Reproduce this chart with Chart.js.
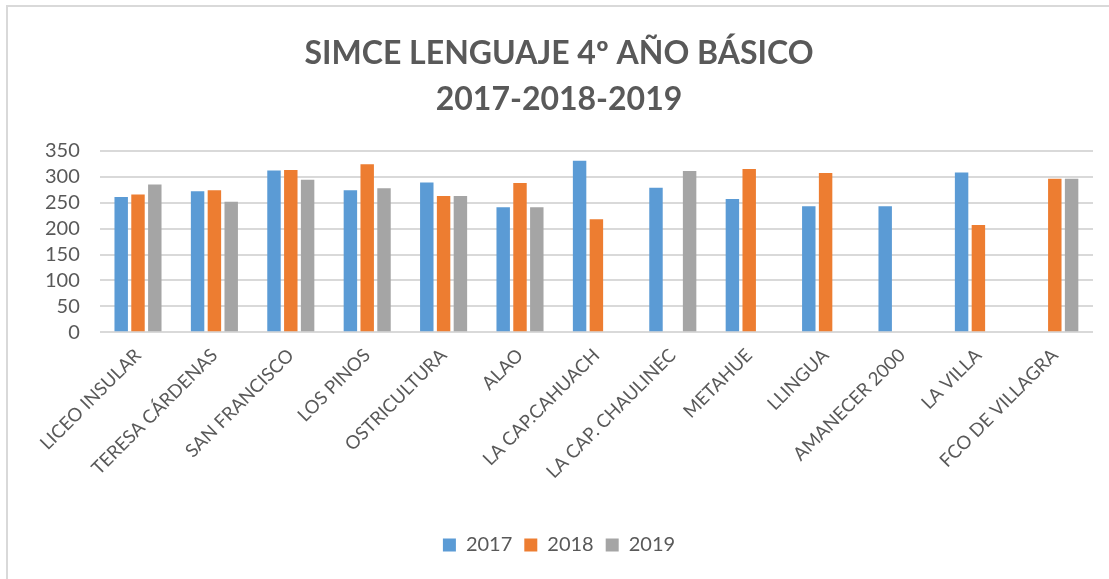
<!DOCTYPE html>
<html>
<head>
<meta charset="utf-8">
<script src="https://cdn.jsdelivr.net/npm/chart.js@4"></script>
<style>
  body { margin: 0; background: #fff; }
  #frame { position: absolute; left: 6px; top: 5px; width: 1200px; height: 700px; border: 2px solid #d9d9d9; }
  #wrap { position: absolute; left: 0; top: 0; width: 1109px; height: 579px; }
</style>
</head>
<body>
<div id="frame"></div>
<div id="wrap"><canvas id="simceChart"></canvas></div>
<script>
// datos
const schools = ['LICEO INSULAR', 'TERESA CÁRDENAS', 'SAN FRANCISCO', 'LOS PINOS', 'OSTRICULTURA', 'ALAO',
  'LA CAP.CAHUACH', 'LA CAP. CHAULINEC', 'METAHUE', 'LLINGUA', 'AMANECER 2000', 'LA VILLA', 'FCO DE VILLAGRA'];
const years = ['2017', '2018', '2019'];
const s2017 = [261, 272, 312, 274, 289, 241, 331, 279, 257, 243, 243, 308, null];
const s2018 = [266, 274, 313, 324, 263, 288, 218, null, 315, 307, null, 207, 296];
const s2019 = [285, 252, 294, 278, 263, 241, null, 311, null, null, null, null, 296];
const yTicks = [0, 50, 100, 150, 200, 250, 300, 350];
const colors = ['#5B9BD5', '#ED7D31', '#A5A5A5'];

const txt = '#595959';
const ctx = document.getElementById('simceChart');
new Chart(ctx, {
  type: 'bar',
  data: {
    labels: schools,
    datasets: [s2017, s2018, s2019].map((d, i) => ({
      label: years[i],
      data: d,
      backgroundColor: colors[i],
      categoryPercentage: 0.66,
      barPercentage: 0.8
    }))
  },
  options: {
    responsive: true,
    maintainAspectRatio: false,
    animation: false,
    layout: { padding: { left: 25, right: 16, top: 0, bottom: 14 } },
    plugins: {
      title: {
        display: true,
        text: ['SIMCE LENGUAJE 4º AÑO BÁSICO', '2017-2018-2019'],
        color: txt,
        font: { family: 'Lato', size: 32, weight: 'bold', lineHeight: 1.45 },
        padding: { top: 30, bottom: 28 }
      },
      legend: {
        position: 'bottom',
        labels: {
          color: txt,
          font: { family: 'Lato', size: 20 },
          boxWidth: 13, boxHeight: 13,
          padding: 12
        }
      },
      tooltip: { enabled: false }
    },
    scales: {
      y: {
        min: 0, max: 350,
        afterBuildTicks: (axis) => { axis.ticks = yTicks.map(v => ({ value: v })); },
        border: { display: false },
        grid: { color: '#d9d9d9', lineWidth: 2, drawTicks: false },
        ticks: { color: txt, font: { family: 'Lato', size: 20 }, padding: 20, autoSkip: false }
      },
      x: {
        border: { display: false },
        grid: { display: false },
        afterFit: (axis) => { axis.height += 36; },
        ticks: {
          color: txt, font: { family: 'Lato', size: 18.5 },
          minRotation: 45, maxRotation: 45, padding: 4, autoSkip: false
        }
      }
    }
  }
});
</script>
</body>
</html>
